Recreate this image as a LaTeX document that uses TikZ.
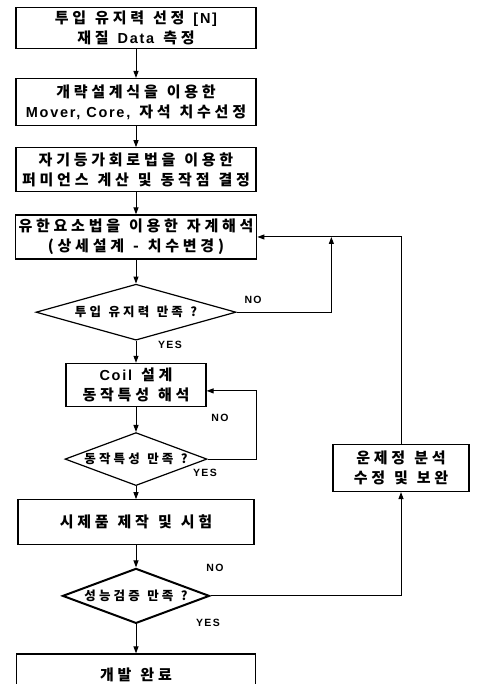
\documentclass[tikz,border=0pt]{standalone}
\usepackage{fontspec}
\setmainfont{Noto Sans CJK KR}[LetterSpace=25, WordSpace=1.25]
\newfontfamily\lat{Liberation Sans}[LetterSpace=12]
\newcommand{\ltxt}[1]{{\lat\fontsize{14.5}{20}\selectfont #1}}
\usepackage{tikz}
\usetikzlibrary{arrows.meta, positioning, shapes.geometric}

\begin{document}
\begin{tikzpicture}[
    x=1pt, y=1pt,
    box/.style={rectangle, draw, line width=1.2pt, minimum width=240pt,
        minimum height=44pt, align=center, font=\fontsize{15}{20}\selectfont\bfseries},
    cond/.style={diamond, draw, line width=1.2pt, inner sep=0pt,
        font=\fontsize{12.5}{13}\selectfont\bfseries},
    lbl/.style={font=\fontsize{10.5}{12}\selectfont\bfseries\lat},
    arrow/.style={-{Triangle[length=7pt,width=5pt]}, line width=1pt}
]
\useasboundingbox (0,0) rectangle (477,-684);

\node[box, minimum height=40pt] (input) at (136,-28) {투입 유지력 선정 \ltxt{[N]}\\재질 \ltxt{Data} 측정};
\node[box, minimum height=47pt, below=29pt of input] (rough)  {개략설계식을 이용한\\\ltxt{Mover, Core,} 자석 치수선정};
\node[box, below=21pt of rough]  (perm)   {자기등가회로법을 이용한\\퍼미언스 계산 및 동작점 결정};
\node[box, below=22pt of perm]   (fem)    {유한요소법을 이용한 자계해석\\(상세설계 - 치수변경)};
\node[cond, aspect=3.57, minimum width=200pt, minimum height=56pt, below=24pt of fem] (chkforce) {투입 유지력 만족 ?};
\node[box, minimum width=140pt, minimum height=43pt, below=22pt of chkforce] (coil) {\ltxt{Coil} 설계\\동작특성 해석};
\node[cond, aspect=2.68, minimum width=142pt, minimum height=53pt, below=25pt of coil] (chkact) {동작특성 만족 ?};
\node[box, minimum width=236pt, minimum height=45pt, below=13pt of chkact] (proto) {시제품 제작 및 시험};
\node[cond, aspect=2.67, line width=2pt, minimum width=147pt, minimum height=55pt, below=22pt of proto] (chkperf) {성능검증 만족 ?};
\node[box, minimum width=239pt, minimum height=41pt, below=29pt of chkperf] (done) {개발 완료};

\node[box, minimum width=136pt, minimum height=47pt] (fix) at (401,-468) {운제정 분석\\수정 및 보완};

\coordinate (join) at ([xshift=74pt]fem.east);

\draw[arrow] (input)    -- (rough);
\draw[arrow] (rough)    -- (perm);
\draw[arrow] (perm)     -- (fem);
\draw[arrow] (fem)      -- (chkforce);
\draw[arrow] (chkforce) -- (coil);
\draw[arrow] (coil)     -- (chkact);
\draw[arrow] (chkact)   -- (proto);
\draw[arrow] (proto)    -- (chkperf);
\draw[arrow] (chkperf)  -- (done);

% feedback loops
\draw[arrow] (chkforce.east) -| (join);
\draw[arrow] (fix.north) |- (fem.east);
\draw[arrow] (chkact.east) -- ++(49pt,0) |- ([yshift=-6pt]coil.east);
\draw[arrow] (chkperf.east) -| (fix.south);

\node[lbl] (no1)  at (253,-300) {NO};
\node[lbl] (yes1) at (170,-345) {YES};
\node[lbl] (no2)  at (220,-418) {NO};
\node[lbl] (yes2) at (205,-473) {YES};
\node[lbl] (no3)  at (215,-568) {NO};
\node[lbl] (yes3) at (208,-623) {YES};
\end{tikzpicture}
\end{document}
